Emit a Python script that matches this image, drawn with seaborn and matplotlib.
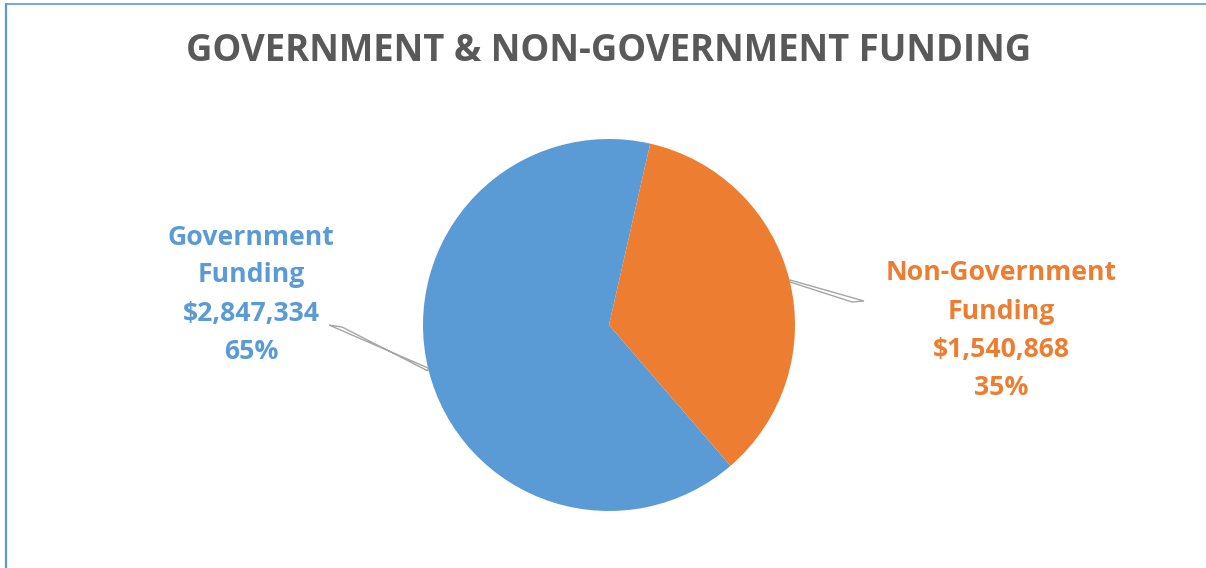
import matplotlib
matplotlib.use("Agg")
import matplotlib.pyplot as plt
import seaborn as sns
from matplotlib.patches import Polygon
from matplotlib.lines import Line2D

sns.set_theme(style="white")
plt.rcParams['font.family'] = ['Open Sans', 'DejaVu Sans']

categories = ["Government\nFunding", "Non-Government\nFunding"]
amounts = [2847334, 1540868]
percent_labels = ["65%", "35%"]
colors = ["#5B9BD5", "#ED7D31"]
title = "GOVERNMENT & NON-GOVERNMENT FUNDING"

W, H = 1206, 568
fig = plt.figure(figsize=(W / 100, H / 100), dpi=100)
fig.patch.set_facecolor("white")

def fx(px):
    return px / W

def fy(py):
    return 1 - py / H

cx, cy, r = 609, 325, 186
ax = fig.add_axes([fx(cx - r), fy(cy + r), 2 * r / W, 2 * r / H])
ax.pie(amounts, colors=colors, startangle=-49.2, counterclock=False,
       radius=1.0, wedgeprops=dict(linewidth=0), shadow=False)
ax.set_xlim(-1, 1)
ax.set_ylim(-1, 1)
ax.set_aspect("equal")
ax.axis("off")

# overlay axes in pixel coordinates for border & leader lines
ov = fig.add_axes([0, 0, 1, 1], facecolor="none")
ov.set_xlim(0, W)
ov.set_ylim(H, 0)
ov.axis("off")
ov.add_line(Line2D([5.5, 5.5], [3.5, H], color="#5B9BD5", lw=1.6))
ov.add_line(Line2D([5.5, W], [3.5, 3.5], color="#5B9BD5", lw=1.2))

# leader lines (thin wedge shape)
ov.add_patch(Polygon([[329, 325], [342, 327], [428, 371], [428, 368]], closed=True,
                     facecolor="white", edgecolor="#A6A6A6", lw=1.0))
ov.add_patch(Polygon([[790, 280], [790, 282], [852, 302], [864, 301]], closed=True,
                     facecolor="white", edgecolor="#A6A6A6", lw=1.0))

fig.text(0.505, fy(51), title, ha="center", va="center", fontsize=26.3,
         fontweight="bold", color="#595959")

label_specs = [(251, [238, 275, 314, 352]), (1001, [273, 312, 350, 388])]
for (x, ys), cat, amt, pct, col in zip(label_specs, categories, amounts, percent_labels, colors):
    lines = cat.split("\n") + [f"${amt:,}", pct]
    for yy, t in zip(ys, lines):
        fig.text(fx(x), fy(yy), t, ha="center", va="center", fontsize=19.2,
                 fontweight="bold", color=col)

fig.savefig("out.png", dpi=100, facecolor="white")
